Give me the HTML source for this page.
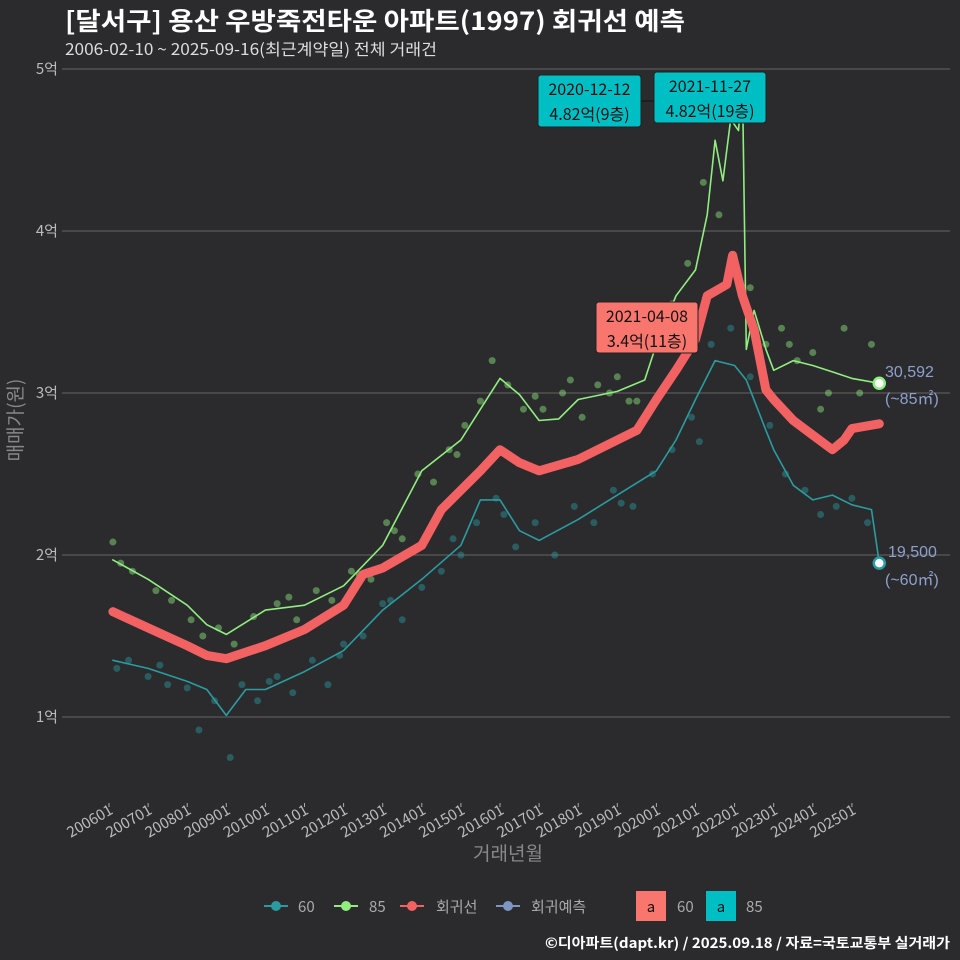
<!DOCTYPE html>
<html><head><meta charset="utf-8"><style>
body{margin:0;background:#2b2b2d;}
svg{display:block;font-family:"Liberation Sans","Noto Sans CJK KR",sans-serif;}
</style></head><body>
<svg id="c" width="960" height="960" viewBox="0 0 960 960">
<rect width="960" height="960" fill="#2b2b2d"/>
<text x="65" y="30" fill="#fff" font-size="25" font-weight="bold" textLength="620" lengthAdjust="spacingAndGlyphs" font-family="Noto Sans CJK KR,sans-serif">[달서구] 용산 우방죽전타운 아파트(1997) 회귀선 예측</text>
<text x="65" y="55" fill="#ddd" font-size="16" textLength="372" lengthAdjust="spacingAndGlyphs" font-family="Noto Sans CJK KR,sans-serif">2006-02-10 ~ 2025-09-16(최근계약일) 전체 거래건</text>
<g id="grid"></g><g id="pts"></g><g id="lines"></g><g id="ann"></g>
<text transform="translate(22,420) rotate(-90)" text-anchor="middle" fill="#888" font-size="19" font-family="Noto Sans CJK KR,sans-serif">매매가(원)</text>
<text x="508" y="860" text-anchor="middle" fill="#888" font-size="19" font-family="Noto Sans CJK KR,sans-serif">거래년월</text>
<g font-size="15" fill="#aaa" font-family="Noto Sans CJK KR,sans-serif">
<g><line x1="264" y1="906" x2="288" y2="906" stroke="#2a9ca0" stroke-width="2"/><circle cx="276" cy="906" r="5" fill="#2a9ca0"/><text x="298" y="912">60</text></g>
<g><line x1="334" y1="906" x2="358" y2="906" stroke="#90ee80" stroke-width="2"/><circle cx="346" cy="906" r="5" fill="#90ee80"/><text x="369" y="912">85</text></g>
<g><line x1="400" y1="906" x2="424" y2="906" stroke="#f36262" stroke-width="2"/><circle cx="412" cy="906" r="5" fill="#f36262"/><text x="436" y="912">회귀선</text></g>
<g><line x1="496" y1="906" x2="520" y2="906" stroke="#7d96c4" stroke-width="2"/><circle cx="508" cy="906" r="5" fill="#7d96c4"/><text x="531" y="912">회귀예측</text></g>
<g><rect x="636" y="891" width="30" height="30" fill="#f8766d"/><text x="651" y="912" text-anchor="middle" fill="#111">a</text><text x="677" y="912">60</text></g>
<g><rect x="706" y="891" width="30" height="30" fill="#00bfc4"/><text x="721" y="912" text-anchor="middle" fill="#111">a</text><text x="746" y="912">85</text></g>
</g>
<text x="950" y="948" text-anchor="end" fill="#fff" font-size="14" font-weight="bold" textLength="405" lengthAdjust="spacingAndGlyphs" font-family="Noto Sans CJK KR,sans-serif">©디아파트(dapt.kr) / 2025.09.18 / 자료=국토교통부 실거래가</text>
</svg>
<script>
const yTicks=[1,2,3,4,5];
const xTickYears=[2006,2007,2008,2009,2010,2011,2012,2013,2014,2015,2016,2017,2018,2019,2020,2021,2022,2023,2024,2025];
const regT=[2006.1,2007,2008,2008.5,2009,2010,2011,2012,2012.5,2013,2014,2014.5,2015,2015.5,2016,2016.5,2017,2018,2019,2019.5,2020,2020.5,2021,2021.3,2021.8,2021.95,2022.2,2022.5,2022.8,2023,2023.5,2024,2024.5,2024.8,2025,2025.7];
const regV=[1.65,1.55,1.44,1.38,1.36,1.44,1.54,1.69,1.88,1.92,2.06,2.28,2.40,2.52,2.65,2.57,2.52,2.59,2.71,2.77,2.96,3.14,3.33,3.60,3.67,3.85,3.60,3.39,3.02,2.96,2.83,2.74,2.65,2.71,2.78,2.81];
const s85T=[2006.1,2007,2008,2008.5,2009,2010,2011,2012,2013,2014,2015,2015.5,2016,2016.5,2017,2017.5,2018,2019,2019.7,2020,2020.5,2021,2021.3,2021.5,2021.7,2021.9,2022.1,2022.2,2022.3,2022.5,2022.8,2023,2023.5,2024,2024.5,2025,2025.7];
const s85V=[1.97,1.85,1.69,1.57,1.51,1.66,1.69,1.81,2.06,2.52,2.71,2.90,3.09,2.99,2.83,2.84,2.96,3.01,3.08,3.30,3.60,3.76,4.10,4.56,4.31,4.69,4.62,4.93,3.27,3.51,3.27,3.14,3.20,3.17,3.13,3.09,3.06];
const s60T=[2006.1,2007,2008,2008.5,2009,2009.5,2010,2011,2012,2013,2014,2015,2015.5,2016,2016.5,2017,2018,2019,2020,2020.5,2021,2021.5,2022,2022.3,2022.8,2023,2023.5,2024,2024.5,2025,2025.5,2025.7];
const s60V=[1.35,1.30,1.22,1.17,1.01,1.17,1.17,1.28,1.41,1.66,1.85,2.06,2.34,2.34,2.15,2.09,2.22,2.37,2.52,2.71,2.96,3.20,3.17,3.08,2.77,2.65,2.43,2.34,2.37,2.31,2.28,1.95];
const p85T=[2006.1,2006.3,2006.6,2007.2,2007.6,2008.1,2008.4,2008.8,2009.2,2009.7,2010.3,2010.8,2011.3,2011.7,2012.2,2012.7,2013.1,2013.5,2013.9,2014.3,2014.7,2015.1,2015.5,2015.8,2016.2,2016.6,2017.1,2017.6,2018.1,2018.5,2019,2019.5,2020,2020.4,2020.8,2021.2,2021.6,2021.9,2022.4,2022.8,2023.2,2023.6,2024,2024.4,2024.8,2025.2,2025.5,2010.6,2012.4,2013.3,2014.9,2016.9,2017.8,2018.8,2019.3,2023.4,2024.2];
const p85V=[2.08,1.95,1.9,1.78,1.72,1.6,1.5,1.55,1.45,1.62,1.7,1.6,1.78,1.72,1.9,1.85,2.2,2.1,2.5,2.45,2.65,2.8,2.95,3.2,3.05,2.9,2.9,3.0,2.85,3.05,3.1,2.95,3.3,3.55,3.8,4.3,4.1,4.9,3.65,3.3,3.4,3.2,3.25,3.0,3.4,3.0,3.3,1.74,1.88,2.15,2.62,2.98,3.08,3.0,2.95,3.3,2.9];
const p60T=[2006.2,2006.5,2007,2007.5,2008,2008.3,2008.7,2009.1,2009.4,2009.8,2010.3,2010.7,2011.2,2011.6,2012,2012.5,2013,2013.5,2014,2014.5,2015,2015.4,2015.9,2016.4,2016.9,2017.4,2017.9,2018.4,2018.9,2019.4,2019.9,2020.4,2020.9,2021.4,2021.9,2022.4,2022.9,2023.3,2023.8,2024.2,2024.6,2025,2025.4,2007.3,2010.1,2011.9,2013.2,2014.8,2016.1,2019.1,2021.1];
const p60V=[1.3,1.35,1.25,1.2,1.18,0.92,1.1,0.75,1.2,1.1,1.25,1.15,1.35,1.2,1.45,1.5,1.7,1.6,1.8,1.9,2.0,2.2,2.35,2.05,2.2,2.0,2.3,2.2,2.4,2.3,2.5,2.65,2.85,3.3,3.4,3.1,2.8,2.5,2.4,2.25,2.3,2.35,2.2,1.32,1.22,1.38,1.72,2.1,2.25,2.32,2.7];
const xPx=t=>109+(t-2006)*39.1;
const yPx=v=>717-(v-1)*162;
const NS="http://www.w3.org/2000/svg";
function mk(tag,attrs,parent){const e=document.createElementNS(NS,tag);for(const k in attrs)e.setAttribute(k,attrs[k]);parent.appendChild(e);return e;}
const grid=document.getElementById('grid'),pts=document.getElementById('pts'),lines=document.getElementById('lines'),ann=document.getElementById('ann');
yTicks.forEach(v=>{const y=yPx(v);
 const l=mk('line',{x1:62,x2:950,y1:y,y2:y,stroke:'#5a5a5a','stroke-width':1.2},grid);
 
 
 const t=mk('text',{x:58,y:y+5,'text-anchor':'end',fill:'#bbb','font-size':15,'font-family':'Noto Sans CJK KR,sans-serif'},grid);t.textContent=v+'억';
 
 });
xTickYears.forEach(yr=>{const x=xPx(yr);
 mk('line',{x1:x,x2:x,y1:803,y2:807,stroke:'#aaa'},grid);
 const t=mk('text',{transform:`translate(${x+5},${813}) rotate(-30)`,'text-anchor':'end',fill:'#bbb','font-size':15,'font-family':'Noto Sans CJK KR,sans-serif'},grid);t.textContent=yr+'01';
 
 });
function dots(T,V,col,name){T.forEach((t,i)=>{const c=mk('circle',{cx:xPx(t),cy:yPx(V[i]),r:3.5,fill:col,opacity:0.45},pts);
 
 });}
dots(p60T,p60V,'#2a9ca0','point-60');
dots(p85T,p85V,'#90ee80','point-85');
function path(T,V,col,w,name){const d=T.map((t,i)=>(i?'L':'M')+xPx(t).toFixed(1)+','+yPx(V[i]).toFixed(1)).join('');
 const p=mk('path',{d:d,fill:'none',stroke:col,'stroke-width':w,'stroke-linejoin':'round','stroke-linecap':'round'},lines);
 
 }
path(s60T,s60V,'#2a9ca0',1.6,'line-60');
path(s85T,s85V,'#90ee80',1.6,'line-85');
path(regT,regV,'#f36262',9,'regression-line');
[[2025.7,3.06,'#90ee80'],[2025.7,1.95,'#2a9ca0']].forEach(([t,v,c])=>{const e=mk('circle',{cx:xPx(t),cy:yPx(v),r:5.5,fill:'#fff',stroke:c,'stroke-width':2.5},lines);
 
 });
function label(x,y,w,h,fill,l1,l2,name){const g=mk('g',{},ann);
 
 
 mk('rect',{x:x,y:y,width:w,height:h,rx:3,fill:fill,stroke:'#222'},g);
 const a=mk('text',{x:x+w/2,y:y+20,'text-anchor':'middle','font-size':16,fill:'#111','font-family':'Noto Sans CJK KR,sans-serif'},g);a.textContent=l1;
 const b=mk('text',{x:x+w/2,y:y+45,'text-anchor':'middle','font-size':16,fill:'#111','font-family':'Noto Sans CJK KR,sans-serif'},g);b.textContent=l2;}
mk('line',{x1:641,x2:654,y1:101,y2:101,stroke:'#111'},ann);
label(538,75,103,52,'#00bfc4','2020-12-12','4.82억(9층)','annotation-max-85a');
label(654,72,112,51,'#00bfc4','2021-11-27','4.82억(19층)','annotation-max-85b');
label(596,302,102,51,'#f8766d','2021-04-08','3.4억(11층)','annotation-regression');
[['30,592',885,377],['(~85㎡)',885,404],['19,500',888,557],['(~60㎡)',885,585]].forEach(([s,x,y])=>{const t=mk('text',{x:x,y:y,fill:'#8ea0cc','font-size':16},ann);t.textContent=s;
 
 });
</script>
</body></html>
